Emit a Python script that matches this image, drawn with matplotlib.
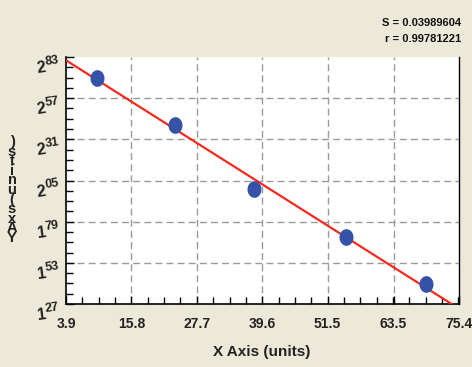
import matplotlib
matplotlib.use("Agg")
import matplotlib.pyplot as plt
import matplotlib.transforms as mtransforms
from matplotlib.path import Path
from matplotlib.ticker import AutoMinorLocator
import numpy as np

x_vals = [9.5, 23.7, 38.1, 54.8, 69.4]
y_vals = [2.70, 2.40, 1.996, 1.693, 1.396]
x_ticks = [3.9, 15.8, 27.7, 39.6, 51.5, 63.5, 75.4]
y_ticks = [1.27, 1.53, 1.79, 2.05, 2.31, 2.57, 2.83]
y_tick_main = ["1", "1", "1", "2", "2", "2", "2"]
y_tick_sup = ["27", "53", "79", "05", "31", "57", "83"]
stats_text = ["S = 0.03989604", "r = 0.99781221"]

plt.rcParams['font.family'] = ['Liberation Sans', 'DejaVu Sans']

bg = '#ECE9D8'
txt = '#222222'
fig = plt.figure(figsize=(4.72, 3.67), dpi=100, facecolor=bg)
ax = fig.add_axes([66/472, 1-304/367, (459-66)/472, (304-57)/367])
ax.set_facecolor('white')

ax.set_xlim(x_ticks[0], x_ticks[-1])
ax.set_ylim(y_ticks[0], y_ticks[-1])

for xv in x_ticks[1:-1]:
    ax.axvline(xv, color='#9a9a9a', lw=1, dashes=(5, 3), zorder=1)
for yv in y_ticks[1:-1]:
    ax.axhline(yv, color='#9a9a9a', lw=1, dashes=(5, 3), zorder=1)

coef = np.polyfit(x_vals, y_vals, 1)
xl = np.array([x_ticks[0] - 1, x_ticks[-1] + 1])
ax.plot(xl, np.polyval(coef, xl), color='#F42A1E', lw=1.6, zorder=3)

t = np.linspace(0, 2*np.pi, 40)
ell = Path(np.column_stack([0.84*np.cos(t), np.sin(t)]))
ax.plot(x_vals, y_vals, linestyle='none', marker=ell, color='#3553A6',
        markersize=12, markeredgewidth=0, zorder=4)

ax.set_xticks(x_ticks)
ax.set_xticklabels([f"{v:.1f}" for v in x_ticks], fontweight='bold', fontsize=10, color=txt)
ax.set_yticks(y_ticks)
ax.set_yticklabels([])
ax.xaxis.set_minor_locator(AutoMinorLocator(4))
ax.yaxis.set_minor_locator(AutoMinorLocator(4))
ax.tick_params(which='both', direction='in', top=False, right=False, color='black')
ax.tick_params(which='major', length=6, width=1)
ax.tick_params(which='minor', length=5, width=1)
ax.tick_params(axis='x', pad=9)
for s in ['left', 'bottom']:
    ax.spines[s].set_linewidth(1.2)
ax.spines['top'].set_visible(False)
ax.spines['right'].set_linewidth(1.0)

# custom y tick labels: main digit + raised decimals
trans = mtransforms.blended_transform_factory(ax.transAxes, ax.transData)
for yv, m, s in zip(y_ticks, y_tick_main, y_tick_sup):
    ax.annotate(m, xy=(0, yv), xycoords=trans, xytext=(-19, -11), textcoords='offset pixels',
                ha='right', va='center', fontsize=11.5, fontweight='bold', color=txt,
                rotation=8, annotation_clip=False)
    ax.annotate(s, xy=(0, yv), xycoords=trans, xytext=(-6, -4), textcoords='offset pixels',
                ha='right', va='center', fontsize=9, fontweight='bold', color=txt,
                rotation=8, annotation_clip=False)

fig.text(262/472, 1-352/367, "X Axis (units)", ha='center', va='center',
         fontsize=11, fontweight='bold', color=txt)

ylabel_chars = list(")stinu(sxAY")
fig.text(12/472, 1-190/367, "\n".join(ylabel_chars), ha='center', va='center',
         fontsize=10.5, fontweight='bold', color=txt, linespacing=0.6)

fig.text(461/472, 1-23/367, stats_text[0], ha='right', va='center',
         fontsize=8, fontweight='bold', color='#111111')
fig.text(461/472, 1-39/367, stats_text[1], ha='right', va='center',
         fontsize=8, fontweight='bold', color='#111111')

fig.savefig("out.png", dpi=100, facecolor=bg)
